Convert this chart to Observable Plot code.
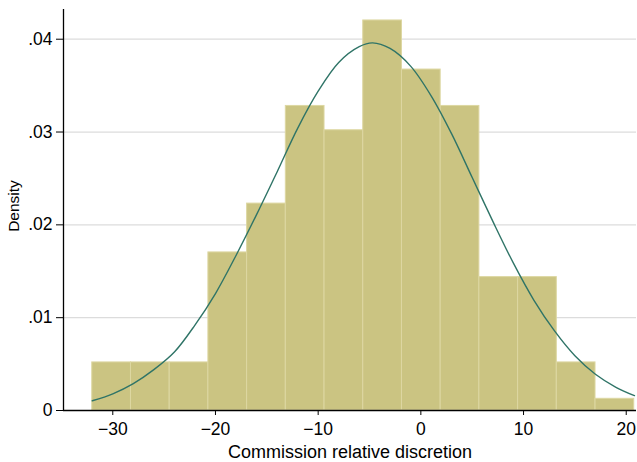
<!DOCTYPE html>
<html>
<head>
<meta charset="utf-8">
<script src="https://cdn.jsdelivr.net/npm/d3@7"></script>
<script src="https://cdn.jsdelivr.net/npm/@observablehq/plot@0.6"></script>
<style>
  html, body { margin: 0; padding: 0; background: #fff; }
  #chart svg { display: block; }
</style>
</head>
<body>
<div id="chart"></div>
<script>
// Histogram bin edges (Commission relative discretion)
const binEdges = [-32, -28.23, -24.46, -20.69, -16.92, -13.15, -9.38, -5.61, -1.84, 1.93, 5.70, 9.47, 13.24, 17.01, 20.78];
// Density of each bin
const densities = [0.00518, 0.00518, 0.00518, 0.01703, 0.02229, 0.03281, 0.03019, 0.04202, 0.03673, 0.03281, 0.01437, 0.01437, 0.00518, 0.00126];
// Normal density overlay
const curveX = [-32, -30, -28, -26, -24, -22, -20, -18, -16, -14, -12, -10, -8, -6, -4.7, -3, -1, 1, 3, 5, 7, 9, 11, 13, 15, 17, 19, 20.8];
const curveY = [0.00105, 0.0018, 0.0029, 0.0044, 0.0063, 0.0092, 0.0126, 0.0167, 0.0211, 0.0257, 0.0304, 0.0344, 0.0375, 0.0392, 0.0396, 0.0390, 0.0371, 0.0339, 0.0298, 0.0251, 0.0204, 0.0159, 0.0119, 0.0086, 0.0059, 0.0039, 0.0025, 0.0016];
// Tick labels
const xTicks = [-30, -20, -10, 0, 10, 20];
const yTicks = [0, 0.01, 0.02, 0.03, 0.04];
const yTickLabels = ["0", ".01", ".02", ".03", ".04"];
const xTitle = "Commission relative discretion";
const yTitle = "Density";

const bars = densities.map((d, i) => ({x1: binEdges[i], x2: binEdges[i + 1], y: d}));
const curve = curveX.map((x, i) => ({x, y: curveY[i]}));
const xDomain = [-34.8, 21.0];
const yDomain = [0, 0.0432];
const font = "'Liberation Sans', Arial, Helvetica, sans-serif";

const chart = Plot.plot({
  width: 637,
  height: 462,
  marginLeft: 63,
  marginRight: 1,
  marginTop: 9,
  marginBottom: 52,
  style: {fontFamily: font, fontSize: "17.5px", color: "#000", background: "#fff"},
  x: {domain: xDomain, label: null},
  y: {domain: yDomain, label: null},
  marks: [
    Plot.ruleY(yTicks.filter(d => d > 0), {stroke: "#dcdcdc", strokeWidth: 1.2}),
    Plot.rectY(bars, {x1: "x1", x2: "x2", y: "y", fill: "#cbc482", stroke: "#ddd7a2", strokeWidth: 1, inset: 0}),
    Plot.line(curve, {x: "x", y: "y", curve: "catmull-rom", stroke: "#2f7467", strokeWidth: 1.4}),
    Plot.ruleX([xDomain[0]], {y1: 0, y2: yDomain[1], stroke: "#000", strokeWidth: 1.3}),
    Plot.ruleY([0], {stroke: "#000", strokeWidth: 1.3}),
    Plot.axisX({ticks: xTicks, tickSize: 5, tickPadding: 7, fontSize: 17.5, label: null, tickFormat: d => d < 0 ? "\u2212" + Math.abs(d) : String(d)}),
    Plot.axisY({ticks: yTicks, tickSize: 7, tickPadding: 4, fontSize: 17.5, label: null, tickFormat: (d, i) => yTickLabels[i]}),
    Plot.text([xTitle], {frameAnchor: "bottom", dy: 42, lineAnchor: "middle", textAnchor: "middle", fontSize: 18, fill: "#000"}),
    Plot.text([yTitle], {frameAnchor: "left", rotate: -90, dx: -49, dy: -4, textAnchor: "middle", lineAnchor: "middle", fontSize: 15.5, fill: "#000"})
  ]
});
document.getElementById("chart").appendChild(chart);
</script>
</body>
</html>
